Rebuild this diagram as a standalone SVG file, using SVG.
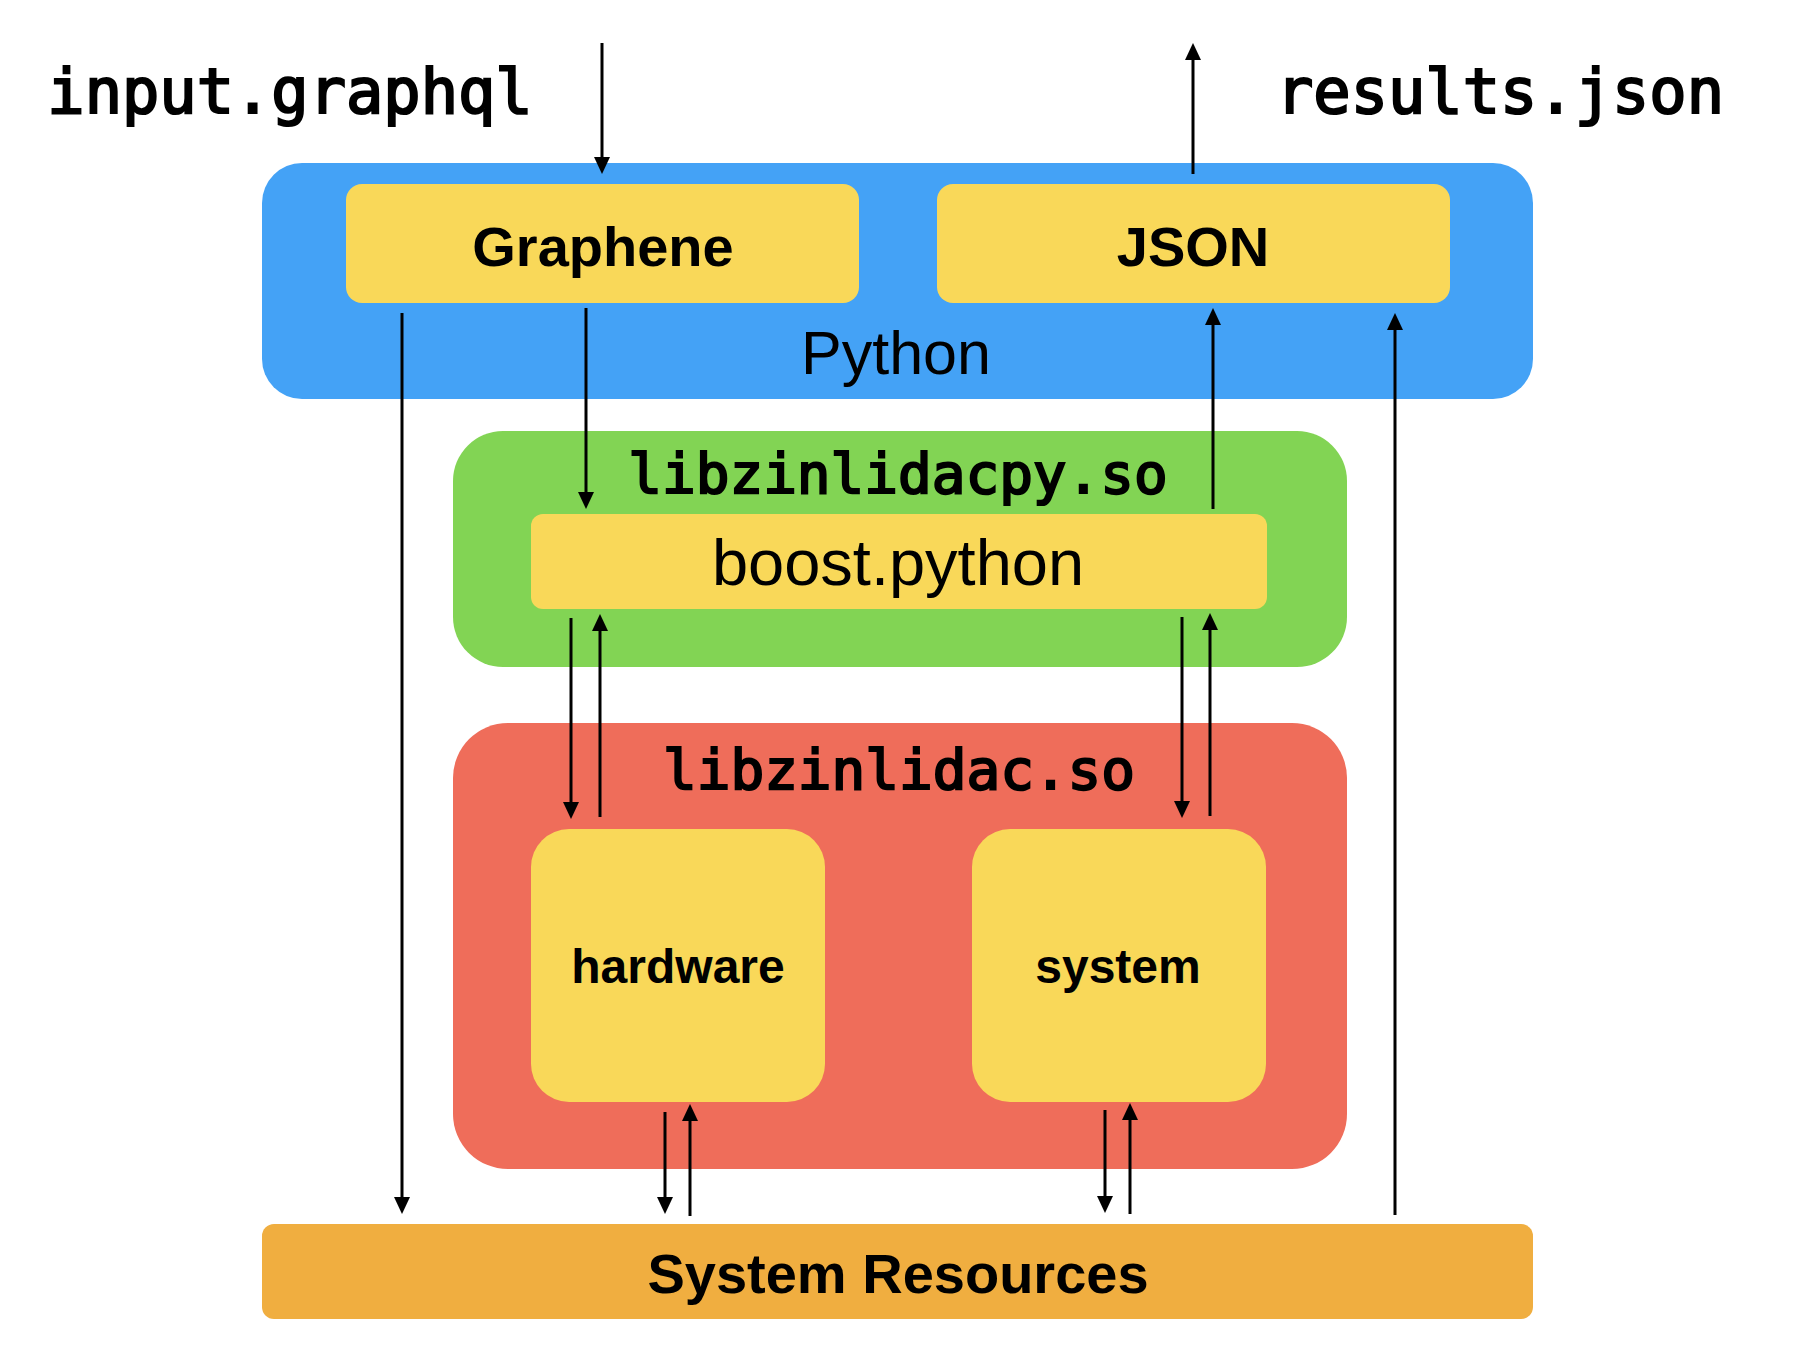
<svg xmlns="http://www.w3.org/2000/svg" width="1796" height="1346" viewBox="0 0 1796 1346">
<defs>
<marker id="ah" viewBox="0 0 17 16" markerUnits="userSpaceOnUse" markerWidth="17" markerHeight="16" refX="1" refY="8" orient="auto">
<path d="M0,0 L17,8 L0,16 Z" fill="#000"/>
</marker>
<style>
.mono{font-family:"DejaVu Sans Mono","Liberation Mono",monospace;font-weight:normal;fill:#000;stroke:#000;stroke-width:2.2;text-anchor:middle}
.sans{font-family:"Liberation Sans",Arial,sans-serif;fill:#000;text-anchor:middle}
.b{font-weight:bold}
.yel{fill:#F9D859}
.edge{stroke:#000;stroke-width:3;fill:none;marker-end:url(#ah)}
</style>
</defs>
<rect width="1796" height="1346" fill="#fff"/>

<g id="label-input"><text class="mono" x="290" y="113" font-size="62">input.graphql</text></g>
<g id="label-results"><text class="mono" x="1500" y="113" font-size="62">results.json</text></g>

<g id="python">
<rect x="262" y="163" width="1271" height="236" rx="40" fill="#44A2F6"/>
<text class="sans" x="896" y="374" font-size="61">Python</text>
</g>
<g id="graphene">
<rect class="yel" x="346" y="184" width="513" height="119" rx="16"/>
<text class="sans b" x="603" y="266" font-size="56">Graphene</text>
</g>
<g id="json">
<rect class="yel" x="937" y="184" width="513" height="119" rx="16"/>
<text class="sans b" x="1193" y="266" font-size="56">JSON</text>
</g>

<g id="libzinlidacpy">
<rect x="453" y="431" width="894" height="236" rx="50" fill="#82D454"/>
<text class="mono" x="898" y="493" font-size="56">libzinlidacpy.so</text>
</g>
<g id="boost">
<rect class="yel" x="531" y="514" width="736" height="95" rx="12"/>
<text class="sans" x="898" y="585" font-size="65">boost.python</text>
</g>

<g id="libzinlidac">
<rect x="453" y="723" width="894" height="446" rx="55" fill="#EF6D5A"/>
<text class="mono" x="899" y="789" font-size="56">libzinlidac.so</text>
</g>
<g id="hardware">
<rect class="yel" x="531" y="829" width="294" height="273" rx="38"/>
<text class="sans b" x="678" y="983" font-size="48">hardware</text>
</g>
<g id="system">
<rect class="yel" x="972" y="829" width="294" height="273" rx="38"/>
<text class="sans b" x="1118" y="983" font-size="48">system</text>
</g>

<g id="resources">
<rect x="262" y="1224" width="1271" height="95" rx="12" fill="#F0AE40"/>
<text class="sans b" x="898" y="1293" font-size="56">System Resources</text>
</g>

<g id="connectors">
<line class="edge" x1="602" y1="43" x2="602" y2="158"/>
<line class="edge" x1="1193" y1="174" x2="1193" y2="59"/>
<line class="edge" x1="586" y1="308" x2="586" y2="493"/>
<line class="edge" x1="1213" y1="509" x2="1213" y2="324"/>
<line class="edge" x1="402" y1="313" x2="402" y2="1198"/>
<line class="edge" x1="1395" y1="1215" x2="1395" y2="329"/>
<line class="edge" x1="571" y1="618" x2="571" y2="803"/>
<line class="edge" x1="600" y1="817" x2="600" y2="630"/>
<line class="edge" x1="1182" y1="617" x2="1182" y2="802"/>
<line class="edge" x1="1210" y1="816" x2="1210" y2="629"/>
<line class="edge" x1="665" y1="1112" x2="665" y2="1198"/>
<line class="edge" x1="690" y1="1216" x2="690" y2="1120"/>
<line class="edge" x1="1105" y1="1110" x2="1105" y2="1197"/>
<line class="edge" x1="1130" y1="1214" x2="1130" y2="1119"/>
</g>
</svg>
